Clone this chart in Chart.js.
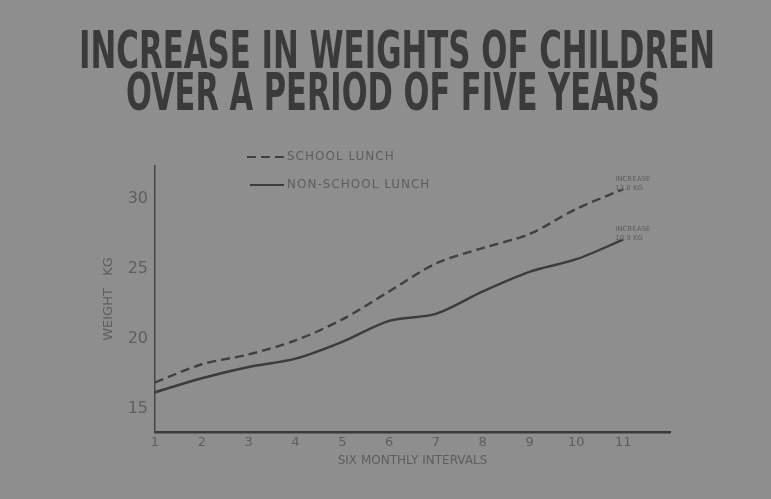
<!DOCTYPE html>
<html>
<head>
<meta charset="utf-8">
<script src="https://cdn.jsdelivr.net/npm/chart.js@4/dist/chart.umd.min.js"></script>
<style>
html,body{margin:0;padding:0;background:#8e8e8e;}
#wrap{width:771px;height:499px;position:relative;}
</style>
</head>
<body>
<div id="wrap"><canvas id="c" width="771" height="499"></canvas></div>
<script>
// ---- data ----
const intervals = [1, 2, 3, 4, 5, 6, 7, 8, 9, 10, 11];
const schoolLunch = [16.9, 18.2, 18.9, 19.9, 21.4, 23.4, 25.4, 26.5, 27.5, 29.3, 30.7];
const nonSchoolLunch = [16.2, 17.2, 18.0, 18.6, 19.8, 21.3, 21.8, 23.4, 24.8, 25.7, 27.1];
const yTicks = [15, 20, 25, 30];
const titleLines = ["INCREASE IN WEIGHTS OF CHILDREN", "OVER A PERIOD OF FIVE YEARS"];
const seriesNames = ["SCHOOL LUNCH", "NON-SCHOOL LUNCH"];
const increaseLabels = [["INCREASE", "13.8 KG"], ["INCREASE", "10.9 KG"]];
const xTitle = "SIX MONTHLY INTERVALS";
const yTitle = "WEIGHT   KG";

const INK = '#3a3a3a';
const SOFT = '#5e5e5e';

const decor = {
  id: 'decor',
  beforeDraw(chart) {
    const ctx = chart.ctx;
    ctx.save();
    ctx.fillStyle = '#8e8e8e';
    ctx.fillRect(0, 0, chart.width, chart.height);
    ctx.restore();
  },
  afterDraw(chart) {
    const ctx = chart.ctx;
    ctx.save();
    // title
    ctx.fillStyle = INK;
    ctx.textAlign = 'center';
    ctx.textBaseline = 'alphabetic';
    ctx.font = 'bold 51px "Liberation Sans Narrow", "DejaVu Sans Condensed", sans-serif';
    ctx.fillText(titleLines[0], 397, 68, 636);
    ctx.fillText(titleLines[1], 393, 110, 534);

    // legend
    const ds = chart.data.datasets;
    const rows = [157, 185];
    ctx.textAlign = 'left';
    ctx.textBaseline = 'middle';
    ctx.font = '12px "DejaVu Sans", sans-serif';
    ctx.letterSpacing = '1px';
    ds.forEach((d, i) => {
      const y = rows[i];
      ctx.strokeStyle = d.borderColor;
      ctx.lineWidth = 2;
      ctx.setLineDash(d.borderDash || []);
      ctx.beginPath();
      ctx.moveTo(i === 0 ? 247 : 250, y);
      ctx.lineTo(284, y);
      ctx.stroke();
      ctx.setLineDash([]);
      ctx.fillStyle = SOFT;
      ctx.fillText(d.label, 287, y);
    });
    ctx.letterSpacing = '0px';

    // increase annotations at last points
    ctx.font = '7px "DejaVu Sans", sans-serif';
    ctx.fillStyle = SOFT;
    ds.forEach((d, i) => {
      const meta = chart.getDatasetMeta(i);
      const p = meta.data[meta.data.length - 1];
      const lbl = increaseLabels[i];
      ctx.fillText(lbl[0], p.x - 8, p.y - 10);
      ctx.fillText(lbl[1], p.x - 8, p.y - 1);
    });
    ctx.restore();
  }
};

const ctx = document.getElementById('c').getContext('2d');
new Chart(ctx, {
  type: 'line',
  data: {
    datasets: [
      {
        label: seriesNames[0],
        data: intervals.map((x, i) => ({x: x, y: schoolLunch[i]})),
        borderColor: '#404040',
        borderWidth: 2.4,
        borderDash: [9, 5],
        pointRadius: 0,
        tension: 0.3,
        fill: false
      },
      {
        label: seriesNames[1],
        data: intervals.map((x, i) => ({x: x, y: nonSchoolLunch[i]})),
        borderColor: '#3c3c3c',
        borderWidth: 2.4,
        pointRadius: 0,
        tension: 0.3,
        fill: false
      }
    ]
  },
  options: {
    responsive: false,
    animation: false,
    layout: {padding: {top: 166, right: 101, left: 101, bottom: 31}},
    plugins: {
      legend: {display: false},
      title: {display: false},
      tooltip: {enabled: false}
    },
    scales: {
      x: {
        type: 'linear',
        min: 1,
        max: 12,
        afterBuildTicks(scale) {
          scale.ticks = intervals.map(v => ({value: v}));
        },
        afterFit(scale) { scale.height = 36; },
        grid: {display: false, drawTicks: false},
        border: {display: true, color: '#3a3a3a', width: 2.5},
        ticks: {
          color: SOFT,
          padding: 3,
          font: {family: '"DejaVu Sans", sans-serif', size: 13},
          callback: v => String(v)
        },
        title: {
          display: true,
          text: xTitle,
          color: SOFT,
          padding: {top: 2, bottom: 0},
          font: {family: '"DejaVu Sans", sans-serif', size: 12}
        }
      },
      y: {
        type: 'linear',
        min: 13.36,
        max: 32.36,
        afterBuildTicks(scale) {
          scale.ticks = yTicks.map(v => ({value: v}));
        },
        afterFit(scale) { scale.width = 54; },
        grid: {display: false, drawTicks: false},
        border: {display: true, color: '#474747', width: 1.5},
        ticks: {
          color: SOFT,
          padding: 7,
          font: {family: '"DejaVu Sans", sans-serif', size: 16},
          callback: v => String(v)
        },
        title: {
          display: true,
          text: yTitle,
          color: SOFT,
          padding: {top: 0, bottom: 0},
          font: {family: '"DejaVu Sans", sans-serif', size: 13}
        }
      }
    }
  },
  plugins: [decor]
});
</script>
</body>
</html>
